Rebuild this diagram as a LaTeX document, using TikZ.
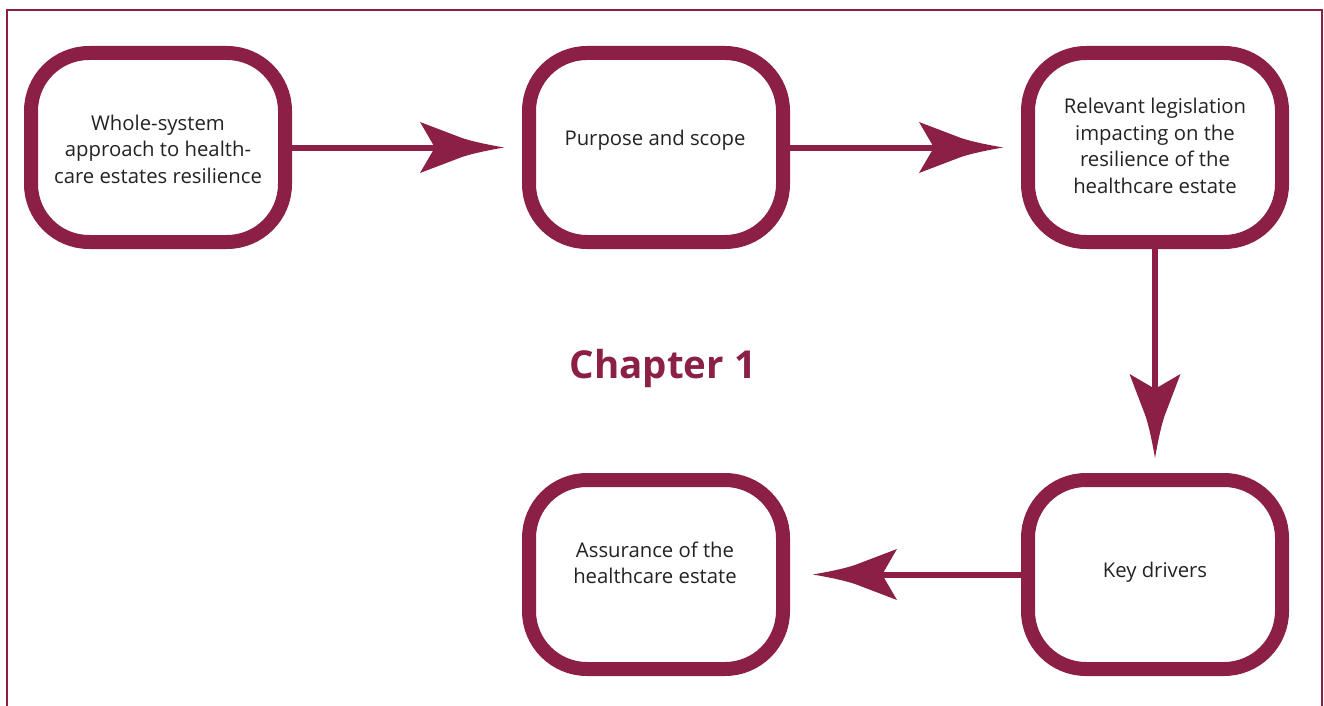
\documentclass[tikz,border=0pt]{standalone}
\usepackage{fontspec}
\setmainfont{Open Sans}
\usetikzlibrary{arrows.meta}
\definecolor{maroon}{RGB}{139,31,69}
\definecolor{txt}{RGB}{35,35,35}
\pgfdeclarearrow{
  name=Barb,
  parameters={},
  setup code={
    \pgfarrowssettipend{0pt}
    \pgfarrowssetlineend{-68pt}
    \pgfarrowssetbackend{-84pt}
    \pgfarrowsupperhullpoint{0pt}{0pt}
    \pgfarrowsupperhullpoint{-84pt}{25.5pt}
  },
  drawing code={
    \pgfpathmoveto{\pgfpoint{0pt}{0pt}}
    \pgfpathcurveto{\pgfpoint{-14pt}{2.5pt}}{\pgfpoint{-30pt}{5.5pt}}{\pgfpoint{-42pt}{9.5pt}}
    \pgfpathlineto{\pgfpoint{-84pt}{25.5pt}}
    \pgfpathlineto{\pgfpoint{-71pt}{3.2pt}}
    \pgfpathlineto{\pgfpoint{-71pt}{-3.2pt}}
    \pgfpathlineto{\pgfpoint{-84pt}{-25.5pt}}
    \pgfpathlineto{\pgfpoint{-42pt}{-9.5pt}}
    \pgfpathcurveto{\pgfpoint{-30pt}{-5.5pt}}{\pgfpoint{-14pt}{-2.5pt}}{\pgfpoint{0pt}{0pt}}
    \pgfpathclose
    \pgfusepathqfill
  }
}
\tikzset{
  box/.style={draw=maroon, line width=14pt, rounded corners=58pt, fill=white,
    minimum width=254pt, minimum height=189pt, inner sep=0pt},
  lbl/.style={text=txt, font=\fontsize{20.3}{26.5}\selectfont, align=center},
  conn/.style={color=maroon, line width=6pt, -Barb},
}
\begin{document}
\begin{tikzpicture}[x=1pt,y=-1pt]
\useasboundingbox (0,0) rectangle (1324,706);
\draw[maroon, line width=2pt] (7,706) -- (7,10) -- (1322,10) -- (1322,706);

\node[box] (b1) at (158,147.5) {};
\node[box] (b2) at (656,147.5) {};
\node[box] (b3) at (1155,147.5) {};
\node[box] (b4) at (1155,574.5) {};
\node[box] (b5) at (656,574.5) {};

\node[lbl] (t1) at (158,149) {Whole-system\\approach to health-\\care estates resilience};
\node[lbl] (t2) at (655,140) {Purpose and scope};
\node[lbl] (t3) at (1155,146) {Relevant legislation\\impacting on the\\resilience of the\\healthcare estate};
\node[lbl] (t4) at (1155,572) {Key drivers};
\node[lbl] (t5) at (655,563) {Assurance of the\\healthcare estate};

\node[text=maroon, font=\fontsize{38.5}{46}\selectfont\bfseries] (ch) at (663,368) {Chapter 1};

\draw[conn, shorten >=18pt] (b1.east) -- (b2.west);
\draw[conn, shorten >=18pt] (b2.east) -- (b3.west);
\draw[conn, shorten >=15pt] (b3.south) -- (b4.north);
\draw[conn, shorten >=23pt] (b4.west) -- (b5.east);
\end{tikzpicture}
\end{document}
